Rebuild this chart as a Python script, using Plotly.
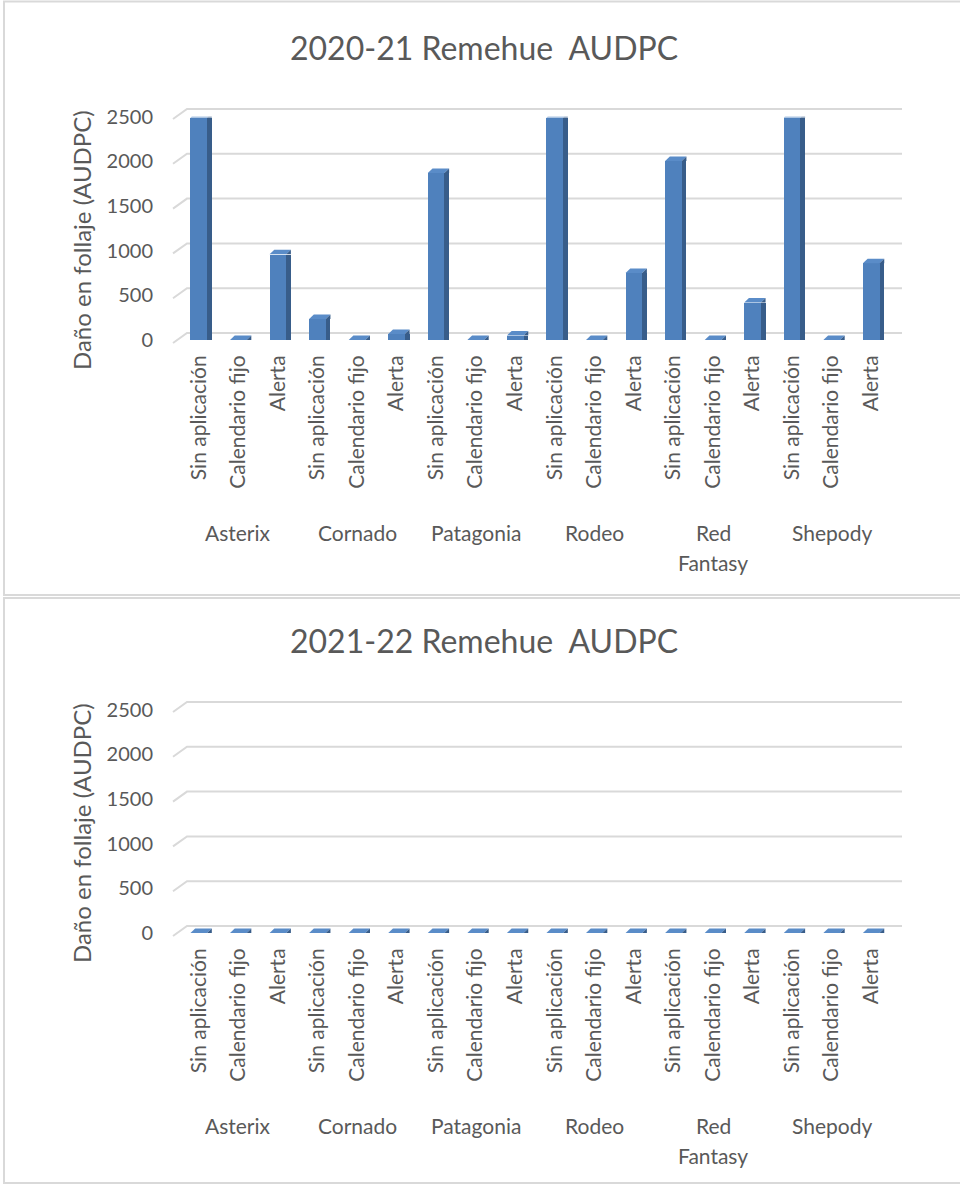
import plotly.graph_objects as go

# Varieties and treatments (one bar per variety x treatment)
varieties = ["Asterix", "Cornado", "Patagonia", "Rodeo", "Red Fantasy", "Shepody"]
treatments = ["Sin aplicación", "Calendario fijo", "Alerta"]

# AUDPC foliage damage, ordered variety by variety, treatments in the order above
audpc_2020_21 = [2490, 0, 960,
                 235, 0, 67,
                 1870, 0, 50,
                 2490, 0, 750,
                 2005, 0, 420,
                 2490, 0, 860]
audpc_2021_22 = [0, 0, 0,
                 0, 0, 0,
                 0, 0, 0,
                 0, 0, 0,
                 0, 0, 0,
                 0, 0, 0]

y_ticks = [0, 500, 1000, 1500, 2000, 2500]
y_title = "Daño en follaje (AUDPC)"
charts = [("2020-21 Remehue  AUDPC", audpc_2020_21),
          ("2021-22 Remehue  AUDPC", audpc_2021_22)]

W, H = 960, 1184
FONT = "Lato"
TXT = "#595959"
GRID = "#D9D9D9"
FRONT = "#4F81BD"
TOP = "#5A8CC8"
SIDE = "#385D8A"

def fx(px):
    return px / W

def fy(py):
    return 1 - py / H

n = len(varieties) * len(treatments)
xs = list(range(n))
ticktext = [t for _ in varieties for t in treatments]

unit_px = (891 - 179) / n          # pixels per category on the front plane
bar_w = 0.42                        # front face width, category units
half_px = bar_w * unit_px / 2
depth_x, depth_y = 4.7, 4.5         # perspective depth of each column, px
side_w = depth_x / unit_px

# back wall geometry (px) and the perspective step toward the front plane
back_l, back_r, back_top, back_bot = 187, 902, 109, 333
step_x_px, step_y_px = 14, 10
back_unit_px = (back_r - back_l) / n
grid_px = (back_bot - back_top) / 2500
persp_dx, persp_dy = step_x_px / back_unit_px, step_y_px / grid_px
top_pad = 2 / grid_px

fig = go.Figure()
shapes = []
annotations = []

for k, (title, values) in enumerate(charts):
    dy = 593 * k
    ga, fa = 2 * k + 1, 2 * k + 2    # back-grid axes / front axes
    xg = "x" if ga == 1 else f"x{ga}"
    yg = "y" if ga == 1 else f"y{ga}"
    xf, yf = f"x{fa}", f"y{fa}"

    # gridlines on the back wall, each with its perspective step to the front
    gx, gy = [], []
    for t in y_ticks:
        gx += [-0.5 - persp_dx, -0.5, n - 0.5, None]
        gy += [t - persp_dy, t, t, None]
    fig.add_trace(go.Scatter(x=gx, y=gy, mode="lines", line=dict(color=GRID, width=2),
                             xaxis=xg, yaxis=yg, showlegend=False, hoverinfo="skip"))

    # front faces
    fig.add_trace(go.Bar(x=xs, y=values, width=bar_w, marker=dict(color=FRONT, line=dict(width=0)),
                         xaxis=xf, yaxis=yf, showlegend=False, hoverinfo="skip"))
    # side faces
    fig.add_trace(go.Bar(x=[x + bar_w / 2 + side_w / 2 for x in xs], y=values, width=side_w,
                         marker=dict(color=SIDE, line=dict(width=0)),
                         xaxis=xf, yaxis=yf, showlegend=False, hoverinfo="skip"))

    layout_axes = {
        ("xaxis" if ga == 1 else f"xaxis{ga}"): dict(
            domain=[fx(back_l - step_x_px - 1), fx(back_r)],
            range=[-0.5 - persp_dx - 1 / back_unit_px, n - 0.5], anchor=yg,
            visible=False, fixedrange=True),
        ("yaxis" if ga == 1 else f"yaxis{ga}"): dict(
            domain=[fy(back_bot + step_y_px + 1 + dy), fy(back_top - 2 + dy)],
            range=[-persp_dy - 1 / grid_px, 2500 + top_pad], anchor=xg,
            visible=False, fixedrange=True),
        f"xaxis{fa}": dict(
            domain=[fx(179), fx(891)], range=[-0.5, n - 0.5], anchor=yf,
            tickmode="array", tickvals=xs, ticktext=ticktext, tickangle=-90,
            tickfont=dict(family=FONT, size=21, color=TXT),
            ticks="outside", ticklen=6, tickcolor="rgba(0,0,0,0)",
            showgrid=False, zeroline=False, showline=False, fixedrange=True),
        f"yaxis{fa}": dict(
            domain=[fy(340 + dy), fy(116.7 + dy)], range=[0, 2500], anchor=xf,
            tickmode="array", tickvals=y_ticks, ticktext=[str(v) for v in y_ticks],
            tickfont=dict(family=FONT, size=20, color=TXT),
            ticks="outside", ticklen=21, tickcolor="rgba(0,0,0,0)",
            showgrid=False, zeroline=False, showline=False, fixedrange=True),
    }
    fig.update_layout(**layout_axes)

    # column tops
    for x, v in zip(xs, values):
        top_path = (f"M {-half_px:.2f},0 L {half_px:.2f},0 L {half_px + depth_x:.2f},{depth_y} "
                    f"L {-half_px + depth_x:.2f},{depth_y} Z")
        side_path = f"M {half_px:.2f},0 L {half_px + depth_x:.2f},{depth_y} L {half_px + depth_x:.2f},0 Z"
        shapes.append(dict(type="path", xref=xf, yref=yf, xsizemode="pixel", ysizemode="pixel",
                           xanchor=x, yanchor=v, path=top_path, fillcolor=TOP, line=dict(width=0)))
        shapes.append(dict(type="path", xref=xf, yref=yf, xsizemode="pixel", ysizemode="pixel",
                           xanchor=x, yanchor=v, path=side_path, fillcolor=SIDE, line=dict(width=0)))

    # chart frame
    shapes.append(dict(type="rect", xref="paper", yref="paper",
                       x0=fx(4), x1=fx(970), y0=fy(595 if k == 0 else 1183), y1=fy(1.5 if k == 0 else 598),
                       line=dict(color=GRID, width=2), fillcolor="rgba(0,0,0,0)", layer="below"))

    # title
    annotations.append(dict(text=title, xref="paper", yref="paper", x=fx(484), y=fy(47 + dy),
                            showarrow=False, xanchor="center", yanchor="middle",
                            font=dict(family=FONT, size=32, color=TXT)))
    # y-axis title
    annotations.append(dict(text=y_title, xref="paper", yref="paper", x=fx(81), y=fy(240 + dy),
                            textangle=-90, showarrow=False, xanchor="center", yanchor="middle",
                            font=dict(family=FONT, size=24, color=TXT)))
    # variety group labels
    for i, name in enumerate(varieties):
        xc = i * len(treatments) + 1
        lines = name.split(" ")
        for j, part in enumerate(lines):
            annotations.append(dict(text=part, xref=xf, yref="paper", x=xc, y=fy(532 + dy + 30 * j),
                                    showarrow=False, xanchor="center", yanchor="middle",
                                    font=dict(family=FONT, size=21, color=TXT)))

fig.update_layout(
    width=W, height=H, margin=dict(l=0, r=0, t=0, b=0, pad=0, autoexpand=False),
    paper_bgcolor="white", plot_bgcolor="rgba(0,0,0,0)",
    barmode="overlay", bargap=0, shapes=shapes, annotations=annotations,
)

fig.write_html("out.html")
